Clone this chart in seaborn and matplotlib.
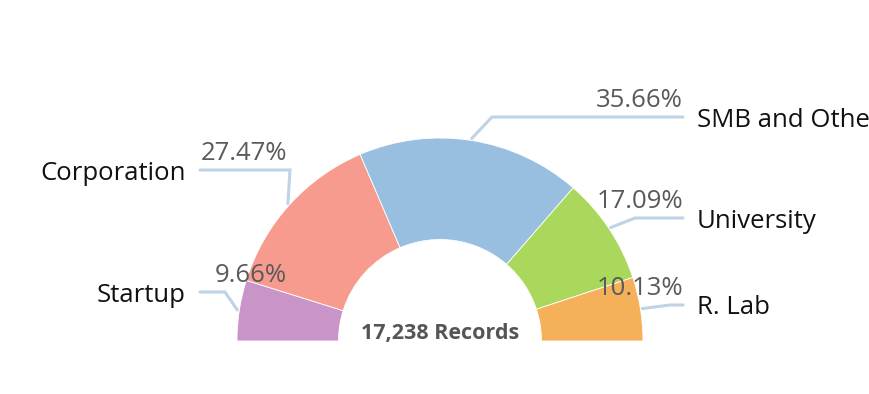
import seaborn as sns
import matplotlib.pyplot as plt
import numpy as np

categories = ['Startup', 'Corporation', 'SMB and Other', 'University', 'R. Lab']
shares = [9.66, 27.47, 35.66, 17.09, 10.13]
total_records = 17238
colors = ['#c994c7', '#f79b8f', '#98bfdf', '#a9d85c', '#f5b05a']

# label layout (pixels from top-left): line y, elbow x, side
label_y = [292, 170, 117, 218, 305]
elbow_x = [225, 290, 492, 635, 670]
side = ['L', 'L', 'R', 'R', 'R']

W, H = 870, 394
cx, cy = 440, H - 341
R, r_in = 203, 101.5

sns.set_style('white')
plt.rcParams['font.family'] = ['Open Sans', 'DejaVu Sans']

fig = plt.figure(figsize=(W / 100, H / 100), dpi=100)
ax = fig.add_axes([0, 0, 1, 1])

# half donut: add an invisible slice that takes the lower half
wedges, _ = ax.pie(shares + [sum(shares)], colors=colors + ['none'],
                   startangle=180, counterclock=False, radius=R, center=(cx, cy),
                   wedgeprops=dict(width=R - r_in, edgecolor='white', linewidth=0.6))
wedges[-1].set_edgecolor('none')
ax.set_xlim(0, W)
ax.set_ylim(0, H)
ax.set_aspect('equal')
ax.axis('off')

line_c = '#bed3e6'
fs = 18.5
for i, w in enumerate(wedges[:-1]):
    mid = np.deg2rad((w.theta1 + w.theta2) / 2)
    px, py = cx + (R + 2) * np.cos(mid), cy + (R + 2) * np.sin(mid)
    ly = H - label_y[i]
    if side[i] == 'L':
        xs = [px, elbow_x[i], 200]
        ax.text(186, ly, categories[i], ha='right', va='center_baseline', fontsize=fs, color='#111111')
        ax.text(287, ly + 4, f'{shares[i]:.2f}%', ha='right', va='bottom', fontsize=fs, color='#5a5a5a')
    else:
        xs = [px, elbow_x[i], 683]
        ax.text(697, ly, categories[i], ha='left', va='center_baseline', fontsize=fs, color='#111111')
        ax.text(683, ly + 4, f'{shares[i]:.2f}%', ha='right', va='bottom', fontsize=fs, color='#5a5a5a')
    ax.plot(xs, [py, ly, ly], color=line_c, lw=2.2, solid_joinstyle='miter', zorder=0)

ax.text(cx, H - 333, f'{total_records:,} Records', ha='center', va='center',
        fontsize=15.5, fontweight='bold', color='#555555')

fig.savefig('out.png', dpi=100)
